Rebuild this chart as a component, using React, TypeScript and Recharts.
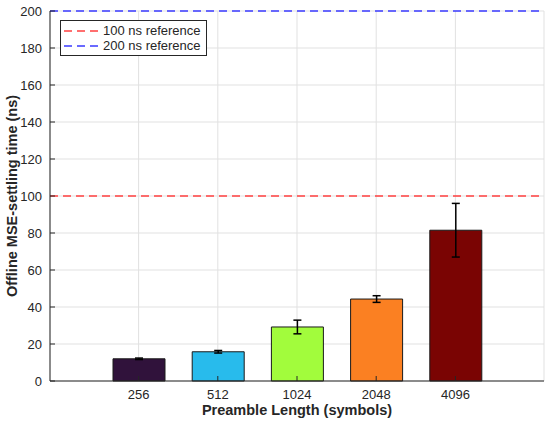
import React from "react";
import {
  ComposedChart, Bar, Cell, ErrorBar, XAxis, YAxis,
  CartesianGrid, ReferenceLine,
} from "recharts";

const lengths   = ["256", "512", "1024", "2048", "4096"];
const settling  = [12.0, 15.8, 29.2, 44.3, 81.5];
const spread    = [0.4, 0.7, 3.7, 1.8, 14.5];
const barColors = ["#30123B", "#28BBEC", "#A2FC3C", "#FB8022", "#7A0403"];
const yTicks    = [0, 20, 40, 60, 80, 100, 120, 140, 160, 180, 200];

const refLines = [
  { value: 100, label: "100 ns reference", color: "#ff4040" },
  { value: 200, label: "200 ns reference", color: "#3a3aff" },
];

const rows = lengths.map((len, i) => ({ len, time: settling[i], err: spread[i] }));

const INK  = "#262626";
const FONT = "'Liberation Sans', Arial, sans-serif";

if (typeof document !== "undefined") document.body.style.margin = "0";

// eslint-disable-next-line @typescript-eslint/no-explicit-any
function LeftTick({ x, y, payload }: any) {
  return (
    <g>
      <line x1={x + 8} x2={x + 13} y1={y} y2={y} stroke={INK} />
      <text x={x} y={y} dy={4.5} textAnchor="end" fill={INK} fontSize={13} fontFamily={FONT}>
        {payload.value}
      </text>
    </g>
  );
}

// eslint-disable-next-line @typescript-eslint/no-explicit-any
function RightTick({ x, y }: any) {
  return <line x1={x - 8} x2={x - 13} y1={y} y2={y} stroke={INK} />;
}

// eslint-disable-next-line @typescript-eslint/no-explicit-any
function BottomTick({ x, y, payload }: any) {
  return (
    <g>
      <line x1={x} x2={x} y1={y - 8} y2={y - 13} stroke={INK} />
      <text x={x} y={y} dy={10} textAnchor="middle" fill={INK} fontSize={13} fontFamily={FONT}>
        {payload.value}
      </text>
    </g>
  );
}

// eslint-disable-next-line @typescript-eslint/no-explicit-any
function TopTick({ x, y }: any) {
  return <line x1={x} x2={x} y1={y + 8} y2={y + 13} stroke={INK} />;
}

// eslint-disable-next-line @typescript-eslint/no-explicit-any
function YLabel({ viewBox }: any) {
  const cx = 12;
  const cy = viewBox.y + viewBox.height / 2;
  return (
    <text
      x={cx} y={cy} transform={`rotate(-90, ${cx}, ${cy})`}
      textAnchor="middle" dominantBaseline="central"
      fill={INK} fontSize={14.5} fontWeight="bold" fontFamily={FONT}
    >
      Offline MSE-settling time (ns)
    </text>
  );
}

// eslint-disable-next-line @typescript-eslint/no-explicit-any
function XLabel({ viewBox }: any) {
  return (
    <text
      x={viewBox.x + viewBox.width / 2} y={viewBox.y + 34}
      textAnchor="middle" fill={INK} fontSize={14.5} fontWeight="bold" fontFamily={FONT}
    >
      Preamble Length (symbols)
    </text>
  );
}

function RefLegend() {
  return (
    <div
      style={{
        position: "absolute", left: 60, top: 20,
        border: `1px solid ${INK}`, background: "#fff", padding: "2px 5px 2px 2px",
        fontFamily: FONT, fontSize: 13, color: INK, lineHeight: "15px",
      }}
    >
      {refLines.map((r) => (
        <div key={r.label} style={{ display: "flex", alignItems: "center" }}>
          <svg width={38} height={15}>
            <line x1={1} x2={37} y1={8} y2={8} stroke={r.color} strokeWidth={1.5} strokeDasharray="8 5" />
          </svg>
          <span style={{ marginLeft: 2 }}>{r.label}</span>
        </div>
      ))}
    </div>
  );
}

export default function App() {
  return (
    <div style={{ position: "relative", width: 550, height: 424, background: "#fff" }}>
      <ComposedChart
        width={550}
        height={424}
        data={rows}
        margin={{ top: 11, right: 6, bottom: 0, left: 0 }}
      >
        <CartesianGrid stroke="#e1e1e1" />
        <XAxis
          dataKey="len"
          padding={{ left: 49, right: 49 }}
          height={43}
          axisLine={{ stroke: INK }}
          tickLine={false}
          tickSize={0}
          tickMargin={8}
          tick={<BottomTick />}
          label={<XLabel />}
        />
        <XAxis
          xAxisId="top"
          dataKey="len"
          orientation="top"
          padding={{ left: 49, right: 49 }}
          height={0}
          axisLine={{ stroke: INK }}
          tickLine={false}
          tickSize={0}
          tickMargin={8}
          tick={<TopTick />}
        />
        <YAxis
          domain={[0, 200]}
          ticks={yTicks}
          width={50}
          axisLine={{ stroke: INK }}
          tickLine={false}
          tickSize={0}
          tickMargin={8}
          tick={<LeftTick />}
          label={<YLabel />}
        />
        <YAxis
          yAxisId="right"
          orientation="right"
          domain={[0, 200]}
          ticks={yTicks}
          width={0}
          axisLine={{ stroke: INK }}
          tickLine={false}
          tickSize={0}
          tickMargin={8}
          tick={<RightTick />}
        />
        <Bar dataKey="time" barSize={52} stroke="#1a1a1a" strokeWidth={1} isAnimationActive={false}>
          {rows.map((r, i) => (
            <Cell key={r.len} fill={barColors[i]} />
          ))}
          <ErrorBar dataKey="err" width={4} stroke="#000" strokeWidth={1.5} direction="y" />
        </Bar>
        {refLines.map((r) => (
          <ReferenceLine
            key={r.label}
            y={r.value}
            stroke={r.color}
            strokeWidth={1.5}
            strokeDasharray="8 5"
            ifOverflow="extendDomain"
          />
        ))}
      </ComposedChart>
      <RefLegend />
    </div>
  );
}
